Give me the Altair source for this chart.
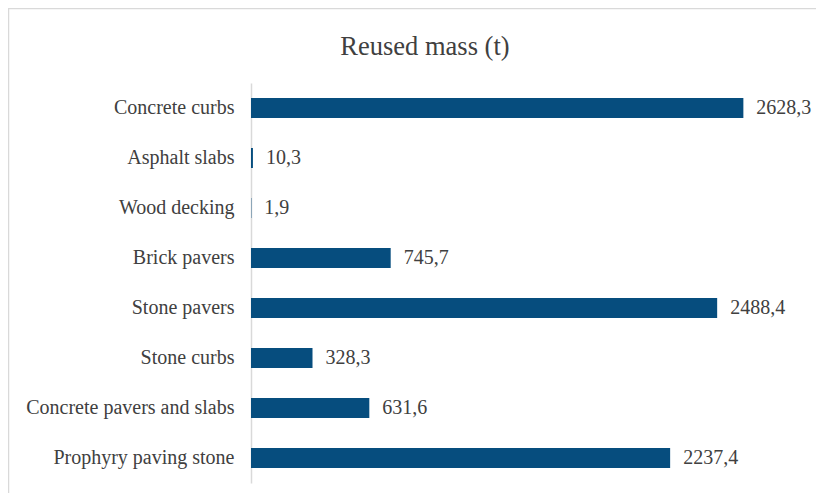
import altair as alt
import pandas as pd

title_text = "Reused mass (t)"
categories = ["Concrete curbs", "Asphalt slabs", "Wood decking", "Brick pavers",
              "Stone pavers", "Stone curbs", "Concrete pavers and slabs",
              "Prophyry paving stone"]
values = [2628.3, 10.3, 1.9, 745.7, 2488.4, 328.3, 631.6, 2237.4]
labels = [f"{v:.1f}".replace(".", ",") for v in values]

df = pd.DataFrame({"cat": categories, "val": values, "lab": labels})
tdf = pd.DataFrame({"t": [title_text]})

FONT = "Times New Roman, Liberation Serif, serif"
TXT = "#404040"
BAR = "#064d7e"

y_enc = alt.Y("cat:N", sort=categories, title=None,
              scale=alt.Scale(paddingInner=0.6, paddingOuter=0.3),
              axis=alt.Axis(labelFont=FONT, labelFontSize=20, labelColor=TXT,
                            labelPadding=17, ticks=False, domainColor="#d9d9d9",
                            domainWidth=1.5, labelLimit=300))
x_enc = alt.X("val:Q", title=None, scale=alt.Scale(domain=[0, 3000]), axis=None)

bars = alt.Chart(df).mark_bar(color=BAR).encode(x=x_enc, y=y_enc)
text = alt.Chart(df).mark_text(align="left", baseline="middle", dx=13,
                               font=FONT, fontSize=20, color=TXT).encode(
    x="val:Q", y=alt.Y("cat:N", sort=categories), text="lab:N")

title = alt.Chart(tdf).mark_text(align="center", baseline="alphabetic",
                                 font=FONT, fontSize=26.5, color=TXT).encode(
    x=alt.value(174), y=alt.value(-28), text="t:N")

frame_top = alt.Chart(tdf).mark_rule(color="#d9d9d9", strokeWidth=1.5).encode(
    x=alt.value(-242), x2=alt.value(570), y=alt.value(-74.5))
frame_left = alt.Chart(tdf).mark_rule(color="#d9d9d9", strokeWidth=1.5).encode(
    x=alt.value(-242.5), y=alt.value(-75), y2=alt.value(420))

chart = alt.layer(frame_top, frame_left, bars, text, title).properties(
    width=562, height=400,
    autosize=alt.AutoSizeParams(type="none"),
    padding={"left": 243, "top": 75, "right": 3, "bottom": 10},
    background="white",
).configure_view(stroke=None)

chart.save("out.html", embed_options={"renderer": "svg", "actions": False})
